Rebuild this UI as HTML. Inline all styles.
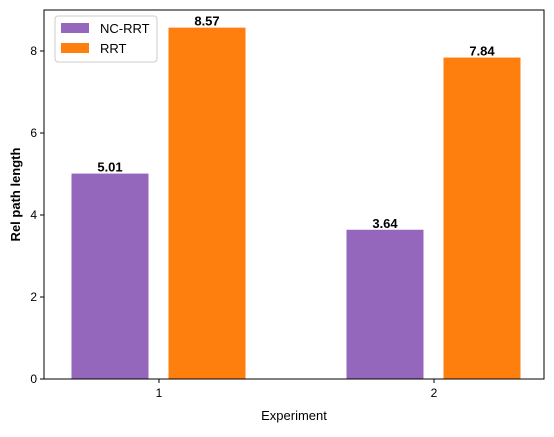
<!DOCTYPE html>
<html><head><meta charset="utf-8"><style>
body{margin:0;background:#fff;font-family:"Liberation Sans",sans-serif}
</style></head><body>
<svg width="554" height="432" xmlns="http://www.w3.org/2000/svg" font-family="Liberation Sans, sans-serif">
<g id="plot"></g>
</svg>
<script>
const categories=["1","2"];
const ncrrt=[5.01,3.64];
const rrt=[8.57,7.84];
const yTicks=[0,2,4,6,8];
const L=44,R=544,T=10,B=379;
const y=v=>B-v*41;
const x=i=>159+i*275;
const ns="http://www.w3.org/2000/svg";
const g=document.getElementById('plot');
function mk(t,a,txt){const e=document.createElementNS(ns,t);for(const k in a)e.setAttribute(k,a[k]);if(txt!==undefined)e.textContent=txt;g.appendChild(e);return e;}
const bw=77;
const series=[{d:ncrrt,c:"#9467bd",off:-49,n:"NC-RRT"},{d:rrt,c:"#ff7f0e",off:48,n:"RRT"}];
series.forEach((s,si)=>{s.d.forEach((v,i)=>{
 const cx=x(i)+s.off;
 const r=mk('rect',{x:cx-bw/2,y:y(v),width:bw,height:B-y(v),fill:s.c});
 
 
 const t=mk('text',{x:cx,y:y(v)-2,'text-anchor':'middle','font-size':13,'font-weight':'bold',fill:'#000'},v.toFixed(2));
 
 
});});
const fr=mk('rect',{x:L,y:T,width:R-L,height:B-T,fill:'none',stroke:'#000','stroke-width':1});


yTicks.forEach(v=>{
 mk('line',{x1:L-4,x2:L,y1:y(v),y2:y(v),stroke:'#000'});
 const t=mk('text',{x:L-7,y:y(v)+4,'text-anchor':'end','font-size':12},String(v));
 
 
});
categories.forEach((c,i)=>{
 mk('line',{x1:x(i),x2:x(i),y1:B,y2:B+4,stroke:'#000'});
 const t=mk('text',{x:x(i),y:B+18,'text-anchor':'middle','font-size':12},c);
 
 
});
const xt=mk('text',{x:(L+R)/2,y:420,'text-anchor':'middle','font-size':13},'Experiment');


const yt=mk('text',{x:20,y:(T+B)/2,'text-anchor':'middle','font-size':13,'font-weight':'bold',transform:'rotate(-90 20 '+((T+B)/2)+')'},'Rel path length');


const lg=mk('rect',{x:55,y:16,width:102,height:46,rx:3,fill:'#fff',stroke:'#ccc'});


series.forEach((s,i)=>{
 mk('rect',{x:61,y:23+i*20,width:28,height:10,fill:s.c});
 const t=mk('text',{x:100,y:33+i*20,'font-size':13},s.n);
 
 
});
</script>
</body></html>
